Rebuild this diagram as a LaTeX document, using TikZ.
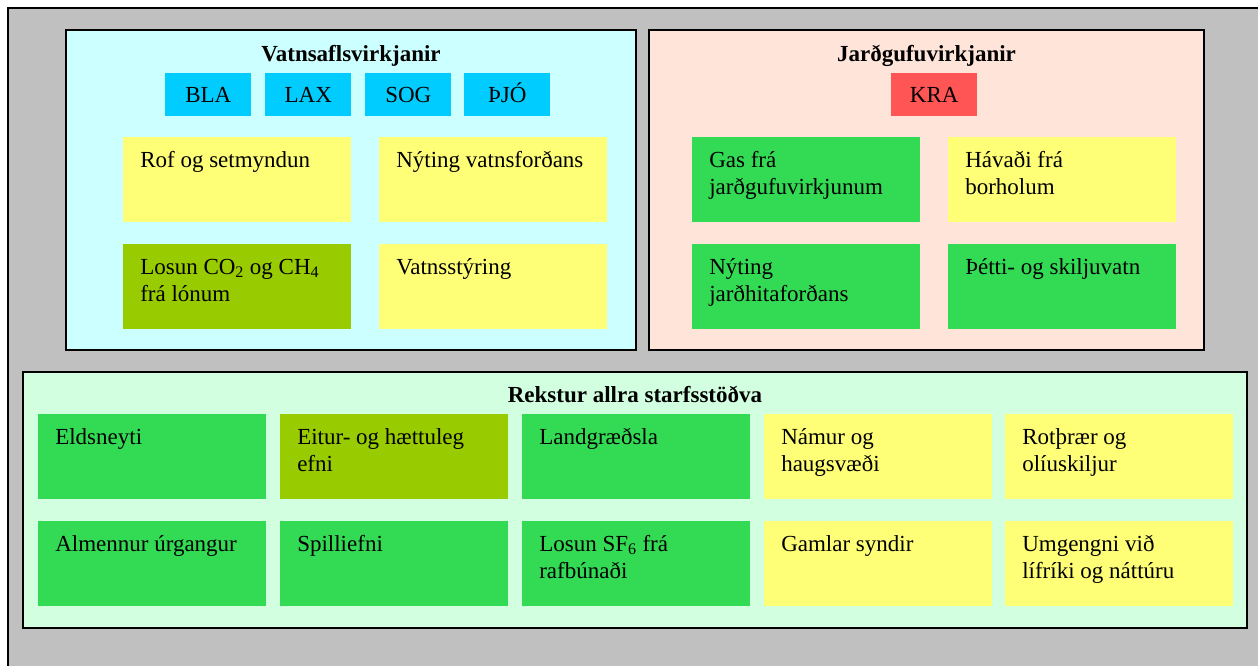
\documentclass[tikz,border=0pt]{standalone}
\usepackage{fontspec}
\setmainfont{Liberation Serif}
\usepackage{tikz}

\definecolor{outergray}{RGB}{192,192,192}
\definecolor{hydrobg}{RGB}{204,255,255}
\definecolor{geobg}{RGB}{255,228,218}
\definecolor{opbg}{RGB}{210,255,224}
\definecolor{tagblue}{RGB}{0,204,255}
\definecolor{tagred}{RGB}{255,85,85}
\definecolor{cellyellow}{RGB}{255,255,119}
\definecolor{cellgreen}{RGB}{51,219,85}
\definecolor{cellolive}{RGB}{153,204,0}

\newcommand{\celltext}[1]{\parbox[c][63.75pt][t]{171pt}{\raggedright\leftskip=12.75pt\rule{0pt}{22.5pt}#1}}

\begin{document}
\begin{tikzpicture}[x=0.75pt, y=-0.75pt,
	font=\fontsize{17.25}{20.25}\selectfont,
	cell/.style={inner sep=0pt, anchor=north west},
	tag/.style={inner sep=0pt, anchor=north west, minimum width=64.5pt, minimum height=32.25pt, text height=13.5pt, text depth=2.25pt},
	group/.style={draw=black, line width=1.2pt},
	title/.style={font=\fontsize{17.25}{20.25}\selectfont\bfseries, anchor=base}]
	
	\useasboundingbox (0, 0) rectangle (1258, 666);
	\clip (0, 0) rectangle (1258, 666);
	\fill[white] (0, 0) rectangle (1258, 666);
	\fill[outergray] (8, 8) rectangle (1280, 690);
	\draw[black, line width=1.5pt] (8, 690) -- (8, 8) -- (1280, 8);
	
	\path[group, fill=hydrobg] (66, 30) rectangle (636, 350);
	\path[group, fill=geobg] (649, 30) rectangle (1204, 350);
	\path[group, fill=opbg] (23, 372) rectangle (1247, 628);
	
	\node[title] (hydro) at (351, 62)     {Vatnsaflsvirkjanir};
	\node[title] (geo) at (926.5, 62)     {Jarðgufuvirkjanir};
	\node[title] (ops) at (635, 403)     {Rekstur allra starfsstöðva};
	
	\node[tag, fill=tagblue] (bla) at (165, 73)     {BLA};
	\node[tag, fill=tagblue] (lax) at (265, 73)     {LAX};
	\node[tag, fill=tagblue] (sog) at (365, 73)     {SOG};
	\node[tag, fill=tagblue] (thjo) at (464, 73)     {ÞJÓ};
	\node[tag, fill=tagred] (kra) at (891, 73)     {KRA};
	
	\node[cell, fill=cellyellow] (rof) at (123, 137)     {\celltext{Rof og setmyndun}};
	\node[cell, fill=cellyellow] (vatnsfordi) at (379, 137)     {\celltext{Nýting vatnsforðans}};
	\node[cell, fill=cellolive] (lon) at (123, 244)     {\celltext{Losun CO\textsubscript{2} og CH\textsubscript{4}\\frá lónum}};
	\node[cell, fill=cellyellow] (styring) at (379, 244)     {\celltext{Vatnsstýring}};
	
	\node[cell, fill=cellgreen] (gas) at (692, 137)     {\celltext{Gas frá\\jarðgufuvirkjunum}};
	\node[cell, fill=cellyellow] (havadi) at (948, 137)     {\celltext{Hávaði frá\\borholum}};
	\node[cell, fill=cellgreen] (jardhiti) at (692, 244)     {\celltext{Nýting\\jarðhitaforðans}};
	\node[cell, fill=cellgreen] (thetti) at (948, 244)     {\celltext{Þétti- og skiljuvatn}};
	
	\node[cell, fill=cellgreen] (eldsneyti) at (38, 414)     {\celltext{Eldsneyti}};
	\node[cell, fill=cellolive] (eitur) at (280, 414)     {\celltext{Eitur- og hættuleg\\efni}};
	\node[cell, fill=cellgreen] (landgr) at (522, 414)     {\celltext{Landgræðsla}};
	\node[cell, fill=cellyellow] (namur) at (764, 414)     {\celltext{Námur og\\haugsvæði}};
	\node[cell, fill=cellyellow] (rotthr) at (1005, 414)     {\celltext{Rotþrær og\\olíuskiljur}};
	
	\node[cell, fill=cellgreen] (urgangur) at (38, 521)     {\celltext{Almennur úrgangur}};
	\node[cell, fill=cellgreen] (spilli) at (280, 521)     {\celltext{Spilliefni}};
	\node[cell, fill=cellgreen] (sfsex) at (522, 521)     {\celltext{Losun SF\textsubscript{6} frá\\rafbúnaði}};
	\node[cell, fill=cellyellow] (syndir) at (764, 521)     {\celltext{Gamlar syndir}};
	\node[cell, fill=cellyellow] (lifriki) at (1005, 521)     {\celltext{Umgengni við\\lífríki og náttúru}};
	
\end{tikzpicture}
\end{document}
